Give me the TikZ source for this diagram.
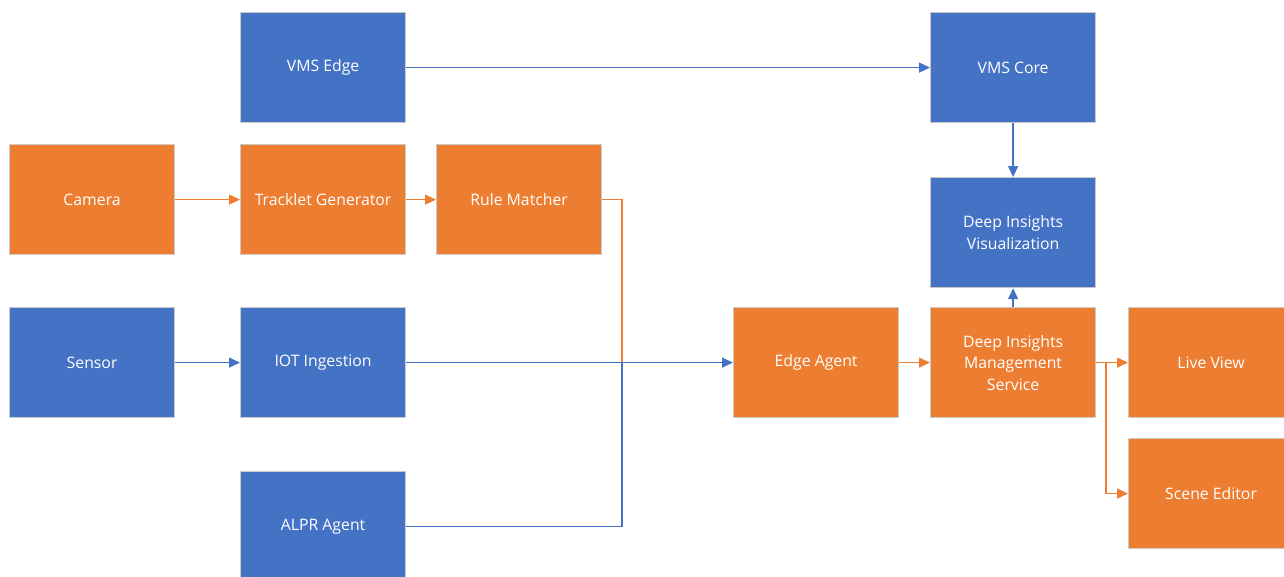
\documentclass[tikz,border=0pt]{standalone}
\usepackage{fontspec}
\setmainfont{Open Sans}
\usetikzlibrary{arrows.meta}
\definecolor{ofOrange}{HTML}{ED7D31}
\definecolor{ofBlue}{HTML}{4472C4}
\definecolor{ofBorder}{HTML}{C9C9C9}
\begin{document}
\begin{tikzpicture}[x=1pt,y=-1pt,
  box/.style={draw=ofBorder,line width=1.2pt,minimum width=165pt,minimum height=110pt,
    inner sep=0pt,align=center,text=white,font=\fontsize{15.8}{21.5}\selectfont,anchor=north west},
  obox/.style={box,fill=ofOrange},
  bbox/.style={box,fill=ofBlue},
  oline/.style={draw=ofOrange,line width=1.3pt},
  bline/.style={draw=ofBlue,line width=1.3pt},
  tip/.style={-{Triangle[length=11pt,width=10pt]}}]
\useasboundingbox (0,0) rectangle (1284,576);
\node[bbox] (vmsedge) at (240,12) {VMS Edge};
\node[bbox] (vmscore) at (930,12) {VMS Core};
\node[obox] (camera) at (9,144) {Camera};
\node[obox] (tracklet) at (240,144) {Tracklet Generator};
\node[obox] (rule) at (436,144) {Rule Matcher};
\node[bbox] (vis) at (930,177) {Deep Insights\\Visualization};
\node[bbox] (sensor) at (9,307) {Sensor};
\node[bbox] (iot) at (240,307) {IOT Ingestion};
\node[obox] (edge) at (733,307) {Edge Agent};
\node[obox] (dims) at (930,307) {Deep Insights\\Management\\Service};
\node[obox] (live) at (1128,307) {Live View};
\node[obox] (scene) at (1128,438) {Scene Editor};
\node[bbox] (alpr) at (240,471) {ALPR Agent};
\coordinate (join) at (622,362);
\coordinate (split) at (1106,362);
% connectors
\draw[bline,tip] (vmsedge) -- (vmscore);
\draw[bline,tip] (vmscore) -- (vis);
\draw[oline,tip] (camera) -- (tracklet);
\draw[oline,tip] (tracklet) -- (rule);
\draw[bline,tip] (sensor) -- (iot);
\draw[oline] (rule.east) -| (join);
\draw[bline] (alpr.east) -| (join);
\draw[bline,tip] (iot) -- (edge);
\draw[oline,tip] (edge) -- (dims);
\draw[bline,tip] (dims) -- (vis);
\draw[oline,tip] (dims) -- (live);
\draw[oline,tip] (split) |- (scene.west);
\end{tikzpicture}
\end{document}
